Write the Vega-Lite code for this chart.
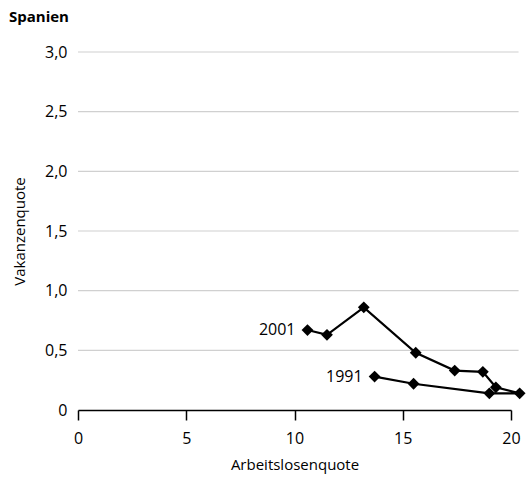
{
  "$schema": "https://vega.github.io/schema/vega-lite/v6.json",
  "autosize": "none",
  "width": 433,
  "height": 358,
  "padding": {"left": 78, "top": 52, "right": 19, "bottom": 71},
  "background": "white",
  "config": {"font": "Open Sans", "view": {"stroke": null}},
  "title": {"text": "Spanien", "anchor": "start", "frame": "group", "dx": -69, "offset": 19, "fontSize": 15, "fontWeight": "bold", "font": "Open Sans", "color": "black"},
  "datasets": {
    "series": [
      {"year": 1991, "alq": 13.7, "vq": 0.28, "label": "1991"},
      {"year": 1992, "alq": 15.5, "vq": 0.22, "label": ""},
      {"year": 1993, "alq": 19.0, "vq": 0.14, "label": ""},
      {"year": 1994, "alq": 20.4, "vq": 0.14, "label": ""},
      {"year": 1995, "alq": 19.3, "vq": 0.19, "label": ""},
      {"year": 1996, "alq": 18.7, "vq": 0.32, "label": ""},
      {"year": 1997, "alq": 17.4, "vq": 0.33, "label": ""},
      {"year": 1998, "alq": 15.6, "vq": 0.48, "label": ""},
      {"year": 1999, "alq": 13.2, "vq": 0.86, "label": ""},
      {"year": 2000, "alq": 11.5, "vq": 0.63, "label": ""},
      {"year": 2001, "alq": 10.6, "vq": 0.67, "label": "2001"}
    ],
    "grid": [{"g": 0.5}, {"g": 1}, {"g": 1.5}, {"g": 2}, {"g": 2.5}, {"g": 3}]
  },
  "layer": [
    {
      "data": {"name": "grid"},
      "mark": {"type": "rule", "color": "#d0d0d0", "strokeWidth": 1.2},
      "encoding": {
        "y": {"field": "g", "type": "quantitative", "scale": {"domain": [0, 3], "nice": false},
          "axis": {"title": "Vakanzenquote", "values": [0, 0.5, 1, 1.5, 2, 2.5, 3], "labelExpr": "datum.value == 0 ? '0' : replace(format(datum.value, '.1f'), '.', ',')", "domain": false, "ticks": false, "grid": false, "labelFontSize": 16, "labelColor": "black", "labelPadding": 11, "titleFontSize": 15, "titleFontWeight": "normal", "titleColor": "black", "titlePadding": 17}},
        "x": {"datum": 0, "type": "quantitative", "scale": {"domain": [0, 20], "nice": false},
          "axis": {"title": "Arbeitslosenquote", "values": [0, 5, 10, 15, 20], "grid": false, "domainColor": "black", "domainWidth": 1.5, "tickColor": "black", "tickWidth": 1.5, "tickSize": 10, "labelFontSize": 16, "labelColor": "black", "labelPadding": 10, "titleFontSize": 15, "titleFontWeight": "normal", "titleColor": "black", "titlePadding": 11, "labelFlush": false}},
        "x2": {"datum": 20.35}
      }
    },
    {
      "data": {"name": "series"},
      "encoding": {
        "x": {"field": "alq", "type": "quantitative"},
        "y": {"field": "vq", "type": "quantitative"}
      },
      "layer": [
        {"mark": {"type": "line", "color": "black", "strokeWidth": 2.2}, "encoding": {"order": {"field": "year", "type": "quantitative"}}},
        {"mark": {"type": "point", "shape": "diamond", "filled": true, "color": "black", "size": 140, "opacity": 1}},
        {"transform": [{"filter": "datum.label != ''"}], "mark": {"type": "text", "align": "right", "baseline": "middle", "dx": -12, "fontSize": 16, "color": "black"}, "encoding": {"text": {"field": "label"}}}
      ]
    }
  ]
}
